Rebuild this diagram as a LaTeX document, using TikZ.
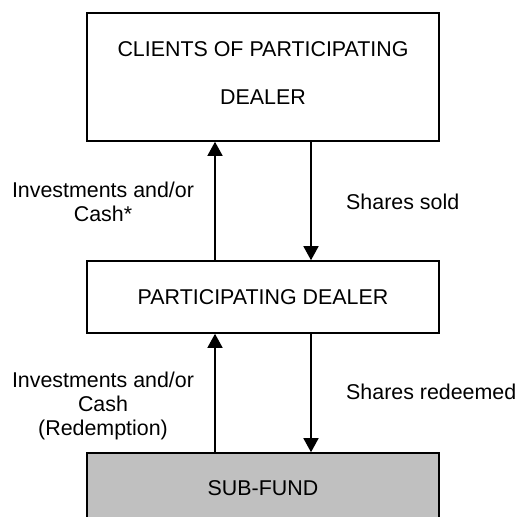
\documentclass[tikz,border=0pt]{standalone}
\usepackage{fontspec}
\setmainfont{Liberation Sans}
\usetikzlibrary{arrows.meta}
\begin{document}
\begin{tikzpicture}[x=1pt,y=-1pt,
  boxstyle/.style={draw=black,line width=1.6pt,rectangle,minimum width=352pt,inner sep=0pt,align=center,
    font=\fontsize{21.4}{48}\selectfont},
  flow/.style={line width=1.5pt,-{Triangle[width=15pt,length=14pt]}},
  lbl/.style={align=center,font=\fontsize{21.4}{24}\selectfont,inner sep=0pt}]
\useasboundingbox (0,0) rectangle (517,517);
\node[boxstyle,minimum height=128pt,text depth=8pt] (top) at (263,77) {CLIENTS OF PARTICIPATING\\DEALER};
\node[boxstyle,minimum height=72pt] (mid) at (263,297) {PARTICIPATING DEALER};
\node[boxstyle,minimum height=70pt,fill={rgb,255:red,192;green,192;blue,192}] (sub) at (263,488) {SUB-FUND};
\coordinate (cu) at (215,0);
\coordinate (cd) at (311,0);
\draw[flow] (mid.north -| cu) -- (top.south -| cu);
\draw[flow] (top.south -| cd) -- (mid.north -| cd);
\draw[flow] (sub.north -| cu) -- (mid.south -| cu);
\draw[flow] (mid.south -| cd) -- (sub.north -| cd);
\node[lbl] (l1) at (103,202) {Investments and/or\\Cash*};
\node[lbl,anchor=west] (l2) at (346,202) {Shares sold};
\node[lbl] (l3) at (103,406) {Investments and/or\\Cash\\(Redemption)};
\node[lbl,anchor=west] (l4) at (346,392) {Shares redeemed};
\end{tikzpicture}
\end{document}
